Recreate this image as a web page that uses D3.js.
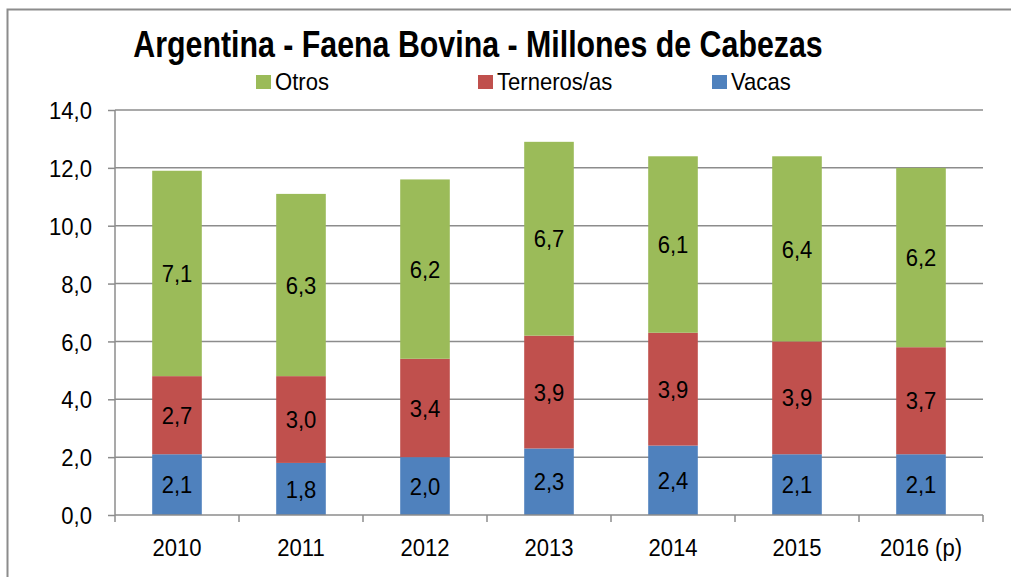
<!DOCTYPE html>
<html><head><meta charset="utf-8">
<script src="https://cdn.jsdelivr.net/npm/d3@7"></script>
<style>
body{margin:0;background:#fff;}
svg{display:block;font-family:"Liberation Sans",Arial,sans-serif;}
</style></head>
<body>
<svg id="chart" width="1011" height="577"></svg>
<script>
const categories = ["2010","2011","2012","2013","2014","2015","2016 (p)"];
const vacas = [2.1,1.8,2.0,2.3,2.4,2.1,2.1];
const terneros = [2.7,3.0,3.4,3.9,3.9,3.9,3.7];
const otros = [7.1,6.3,6.2,6.7,6.1,6.4,6.2];
const seriesNames = ["Vacas","Terneros/as","Otros"];
const legendOrder = ["Otros","Terneros/as","Vacas"];
const colors = {"Vacas":"#4F81BD","Terneros/as":"#C0504D","Otros":"#9BBB59"};
const yTicks = [0,2,4,6,8,10,12,14];
const title = "Argentina - Faena Bovina - Millones de Cabezas";

const SX = 0.92, FS = 24;
const svg = d3.select("#chart");
const fmt = v => d3.format(".1f")(v).replace(".", ",");

// outer frame
svg.append("rect").attr("x",7.5).attr("y",9.5).attr("width",1100).attr("height",700)
  .attr("fill","none").attr("stroke","#8c8c8c").attr("stroke-width",2);

const m = {left:115, right:983, top:110, bottom:515};
const x = d3.scaleBand().domain(categories).range([m.left,m.right]).paddingInner(0.6).paddingOuter(0.3);
const xb = d3.scaleBand().domain(categories).range([m.left,m.right]).padding(0);
const y = d3.scaleLinear().domain([0,14]).range([m.bottom,m.top]);

// gridlines
svg.append("g").selectAll("line").data(yTicks.filter(d=>d>0)).join("line")
  .attr("x1",m.left).attr("x2",m.right).attr("y1",d=>y(d)).attr("y2",d=>y(d))
  .attr("stroke","#8c8c8c").attr("stroke-width",1.5);

// stacked bars
const table = categories.map((c,i)=>({cat:c,"Vacas":vacas[i],"Terneros/as":terneros[i],"Otros":otros[i]}));
const stack = d3.stack().keys(seriesNames)(table);
const g = svg.append("g");
stack.forEach(layer=>{
  g.append("g").selectAll("rect").data(layer).join("rect")
    .attr("x",d=>x(d.data.cat)).attr("width",x.bandwidth())
    .attr("y",d=>y(d[1])).attr("height",d=>y(d[0])-y(d[1]))
    .attr("fill",colors[layer.key]);
  g.append("g").selectAll("text").data(layer).join("text")
    .attr("transform",d=>`translate(${x(d.data.cat)+x.bandwidth()/2},${(y(d[0])+y(d[1]))/2}) scale(${SX},1)`)
    .attr("dy","0.36em").attr("text-anchor","middle")
    .attr("font-size",FS).attr("fill","#000")
    .text(d=>fmt(d[1]-d[0]));
});

// y axis
const yAxis = svg.append("g").attr("transform",`translate(${m.left},0)`)
  .call(d3.axisLeft(y).tickValues(yTicks).tickFormat(fmt).tickSize(7).tickPadding(14));
yAxis.select(".domain").attr("stroke","#8c8c8c").attr("stroke-width",1.5).attr("d",`M0,${m.top}V${m.bottom}`);
yAxis.selectAll(".tick line").attr("stroke","#8c8c8c").attr("stroke-width",1.5);
yAxis.selectAll("text").attr("x",0).attr("dy","0.36em").attr("transform",`translate(-23,0) scale(${SX},1)`)
  .attr("font-size",FS).attr("fill","#000").attr("font-family","inherit");

// x axis
const xAxis = svg.append("g").attr("transform",`translate(0,${m.bottom})`)
  .call(d3.axisBottom(xb).tickSize(0));
xAxis.select(".domain").attr("stroke","#8c8c8c").attr("stroke-width",1.5).attr("d",`M${m.left},0H${m.right}`);
xAxis.selectAll("text").attr("y",0).attr("dy",0).attr("transform",`translate(0,41) scale(${SX},1)`)
  .attr("font-size",FS).attr("fill","#000").attr("font-family","inherit");
const bounds = categories.map(c=>xb(c)).concat([m.right]);
xAxis.append("g").selectAll("line").data(bounds).join("line")
  .attr("x1",d=>d).attr("x2",d=>d).attr("y1",0).attr("y2",7)
  .attr("stroke","#8c8c8c").attr("stroke-width",1.5);

// title
svg.append("text").attr("transform","translate(478,57) scale(0.82,1)").attr("text-anchor","middle")
  .attr("font-size",37).attr("font-weight","bold").attr("fill","#000").text(title);

// legend
const legX = {"Otros":256,"Terneros/as":478,"Vacas":712};
const leg = svg.append("g").selectAll("g").data(legendOrder).join("g")
  .attr("transform",d=>`translate(${legX[d]},75)`);
leg.append("rect").attr("width",15).attr("height",14).attr("fill",d=>colors[d]);
leg.append("text").attr("transform",`translate(19,15) scale(${SX},1)`).attr("font-size",FS).attr("fill","#000").text(d=>d);
</script>
</body></html>
